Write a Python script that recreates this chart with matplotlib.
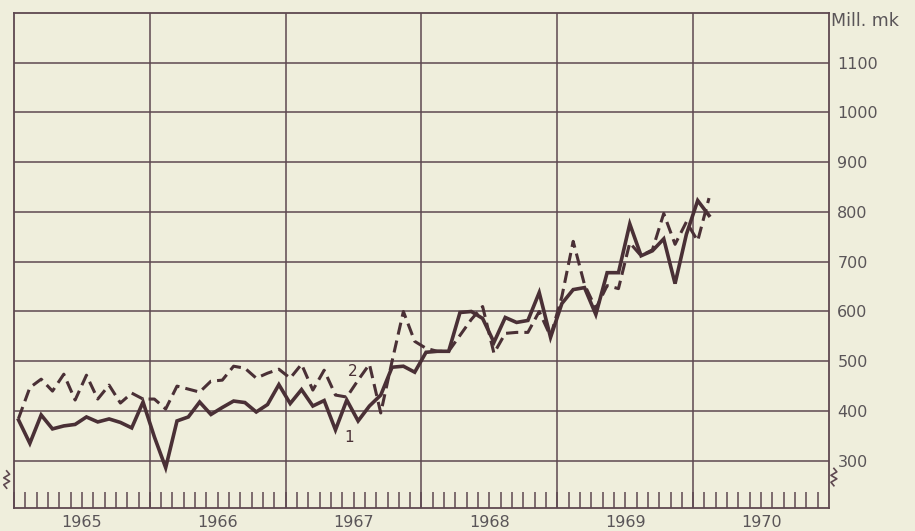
import numpy as np
import matplotlib
matplotlib.use("Agg")
import matplotlib.pyplot as plt
import matplotlib.transforms as mtransforms

plt.rcParams['font.family'] = ['DejaVu Sans']

# monthly values, Jan 1965 .. Feb 1970 (Mill. mk)
series1 = [382, 335, 392, 364, 370, 373, 388, 378, 384, 377, 366, 418,
           348, 286, 380, 388, 418, 393, 407, 420, 417, 398, 413, 453,
           415, 443, 410, 421, 362, 422, 380, 410, 432, 488, 490, 478,
           518, 520, 520, 598, 600, 586, 538, 588, 578, 582, 638, 548,
           616, 644, 648, 594, 678, 678, 776, 712, 722, 746, 656, 755,
           823, 793]
series2 = [385, 447, 464, 440, 474, 422, 472, 424, 452, 416, 436, 424,
           424, 404, 450, 444, 438, 460, 462, 490, 486, 466, 476, 484,
           466, 494, 442, 482, 432, 428, 462, 494, 396, 500, 600, 540,
           526, 520, 520, 552, 584, 610, 516, 556, 558, 558, 600, 550,
           630, 741, 654, 606, 652, 646, 738, 712, 724, 797, 735, 780,
           742, 828]
years = [1965, 1966, 1967, 1968, 1969, 1970]
y_ticks = [300, 400, 500, 600, 700, 800, 900, 1000, 1100]

ink = '#4a3036'
grid_col = '#5e4850'
text_col = '#5a5558'
bg = '#efeedc'

months = np.arange(len(series1))
x = years[0] + (months + 0.4) / 12

fig = plt.figure(figsize=(9.15, 5.31), dpi=100, facecolor=bg)
ax = fig.add_axes([14 / 915, 1 - 508 / 531, (829 - 14) / 915, (508 - 13) / 531])
ax.set_facecolor(bg)

ax.set_xlim(1965, 1971)
ax.set_ylim(205, 1200)

# grid
for v in y_ticks:
    ax.axhline(v, color=grid_col, lw=1.1, zorder=1)
for yr in years[1:]:
    ax.axvline(yr, color=grid_col, lw=1.1, zorder=1)

ax.plot(x, series2, color=ink, lw=2.2, ls=(0, (4, 2)), zorder=3)
ax.plot(x, series1, color=ink, lw=2.6, solid_joinstyle='miter', zorder=4)

ax.text(1967.47, 346, '1', color=ink, fontsize=11, ha='center', va='center')
ax.text(1967.49, 480, '2', color=ink, fontsize=11, ha='center', va='center')

for s in ax.spines.values():
    s.set_color(grid_col)
    s.set_linewidth(1.3)

# x axis: month ticks inside, year labels centred below
ax.set_xticks(np.arange(1965, 1971, 1 / 12))
ax.set_xticklabels([])
ax.tick_params(axis='x', which='major', direction='in', length=11.5,
               width=1.1, color=grid_col)
trans = mtransforms.blended_transform_factory(ax.transData, ax.transAxes)
for yr in years:
    ax.text(yr + 0.5, -0.03, str(yr), transform=trans, color=text_col,
            fontsize=11.5, ha='center', va='center')

# y axis on the right
ax.yaxis.tick_right()
ax.set_yticks(y_ticks)
ax.set_yticklabels([str(v) for v in y_ticks], color=text_col, fontsize=11.5)
ax.tick_params(axis='y', length=0, pad=6)
ax.text(1.003, 0.984, 'Mill. mk', transform=ax.transAxes, color=text_col,
        fontsize=12.5, ha='left', va='center')

# axis break marks
zx = np.array([0, -0.6, 0.6, -0.6, 0.6, 0]) * 0.006
zy = np.array([0, 0.2, 0.4, 0.6, 0.8, 1.0]) * 0.035
ax.plot(-0.009 + zx, 0.04 + zy, transform=ax.transAxes, color=grid_col,
        lw=1.2, clip_on=False)
ax.plot(1.006 + zx, 0.045 + zy, transform=ax.transAxes, color=grid_col,
        lw=1.2, clip_on=False)

fig.savefig('out.png', dpi=100, facecolor=bg)
